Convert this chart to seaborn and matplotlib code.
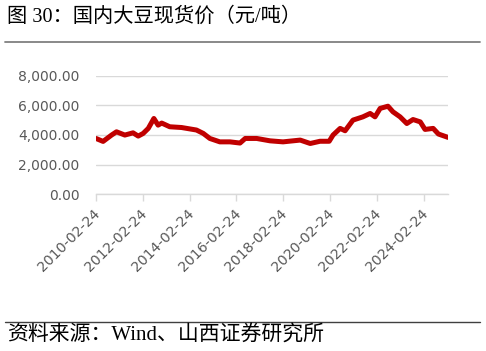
import pandas as pd
import matplotlib
matplotlib.use("Agg")
import matplotlib.pyplot as plt
import matplotlib.dates as mdates
import matplotlib.ticker as mticker
import matplotlib.transforms as mtransforms
import seaborn as sns

sns.set_theme(style='white')
plt.rcParams['font.family'] = ['DejaVu Sans', 'Noto Sans CJK SC']

# domestic soybean spot price (yuan/ton)
dates = ['2010-02-24', '2010-06-15', '2010-10-25', '2011-01-10', '2011-05-20',
         '2011-09-25', '2011-12-15', '2012-03-01', '2012-05-20', '2012-08-15',
         '2012-10-20', '2012-12-15', '2013-04-20', '2013-10-20', '2014-01-10',
         '2014-06-10', '2014-09-25', '2015-01-05', '2015-06-10', '2015-11-15',
         '2016-04-20', '2016-07-10', '2017-01-05', '2017-08-01', '2018-02-20',
         '2018-11-15', '2019-04-20', '2019-09-20', '2020-02-10', '2020-04-10',
         '2020-07-30', '2020-10-15', '2021-02-15', '2021-07-20', '2021-11-10',
         '2022-01-25', '2022-04-15', '2022-08-15', '2022-11-01', '2023-02-20',
         '2023-06-05', '2023-09-10', '2024-01-01', '2024-03-15', '2024-07-20',
         '2024-10-10', '2025-03-10']
prices = [3760, 3560, 3990, 4210, 3990,
          4140, 3920, 4100, 4440, 5110,
          4660, 4800, 4550, 4500, 4440,
          4330, 4100, 3760, 3530, 3530,
          3450, 3760, 3760, 3600, 3530,
          3650, 3420, 3570, 3570, 3990,
          4440, 4280, 5000, 5220, 5450,
          5220, 5790, 5940, 5560, 5220,
          4770, 5040, 4880, 4370, 4440,
          4060, 3830]
tick_dates = ['2010-02-24', '2012-02-24', '2014-02-24', '2016-02-24',
              '2018-02-24', '2020-02-24', '2022-02-24', '2024-02-24']
y_ticks = [0, 2000, 4000, 6000, 8000]

df = pd.DataFrame({'date': pd.to_datetime(dates), 'price': prices})

fig = plt.figure(figsize=(4.86, 3.51), dpi=100)
ax = fig.add_axes([0.1975, 0.447, 0.7245, 0.3373])

sns.lineplot(data=df, x='date', y='price', ax=ax, color='#C00000',
             linewidth=3.6, solid_joinstyle='round', solid_capstyle='round')

ax.set_xlim(pd.Timestamp('2010-02-24'), pd.Timestamp('2025-03-10'))
ax.set_ylim(0, 8000)
ax.set_yticks(y_ticks)
ax.yaxis.set_major_formatter(mticker.StrMethodFormatter('{x:,.2f}'))
ax.set_xticks(pd.to_datetime(tick_dates))
ax.xaxis.set_major_formatter(mdates.DateFormatter('%Y-%m-%d'))
ax.set_xlabel('')
ax.set_ylabel('')

ax.grid(axis='y', color='#d9d9d9', linewidth=1.0)
ax.set_axisbelow(True)
for s in ['left', 'right', 'top']:
    ax.spines[s].set_visible(False)
ax.spines['bottom'].set_color('#d9d9d9')
ax.spines['bottom'].set_linewidth(1.0)

ax.tick_params(axis='y', length=0, pad=12, labelsize=10, labelcolor='#595959')
ax.tick_params(axis='x', length=5, width=1, color='#d9d9d9', direction='out',
               pad=4, labelsize=10.2, labelcolor='#595959', bottom=True)
offset = mtransforms.ScaledTranslation(7 / 100, 0, fig.dpi_scale_trans)
for lab in ax.get_xticklabels():
    lab.set_rotation(45)
    lab.set_ha('right')
    lab.set_va('top')
    lab.set_transform(lab.get_transform() + offset)

cjk = ['Liberation Serif', 'Noto Sans CJK SC']
fig.text(7 / 486, 1 - 17 / 351, '图 30：国内大豆现货价（元/吨）', family=cjk,
         fontsize=14.6, color='#000000', ha='left', va='center')
fig.add_artist(plt.Line2D([5 / 486, 480 / 486], [1 - 42.3 / 351, 1 - 42.3 / 351],
                          color='#808080', linewidth=1.3))
fig.add_artist(plt.Line2D([5 / 486, 480 / 486], [1 - 321.7 / 351, 1 - 321.7 / 351],
                          color='#404040', linewidth=1.0))
fig.text(7 / 486, 1 - 336 / 351, '资料来源：Wind、山西证券研究所', family=cjk,
         fontsize=15.0, color='#000000', ha='left', va='center')

fig.savefig('out.png', dpi=100)
